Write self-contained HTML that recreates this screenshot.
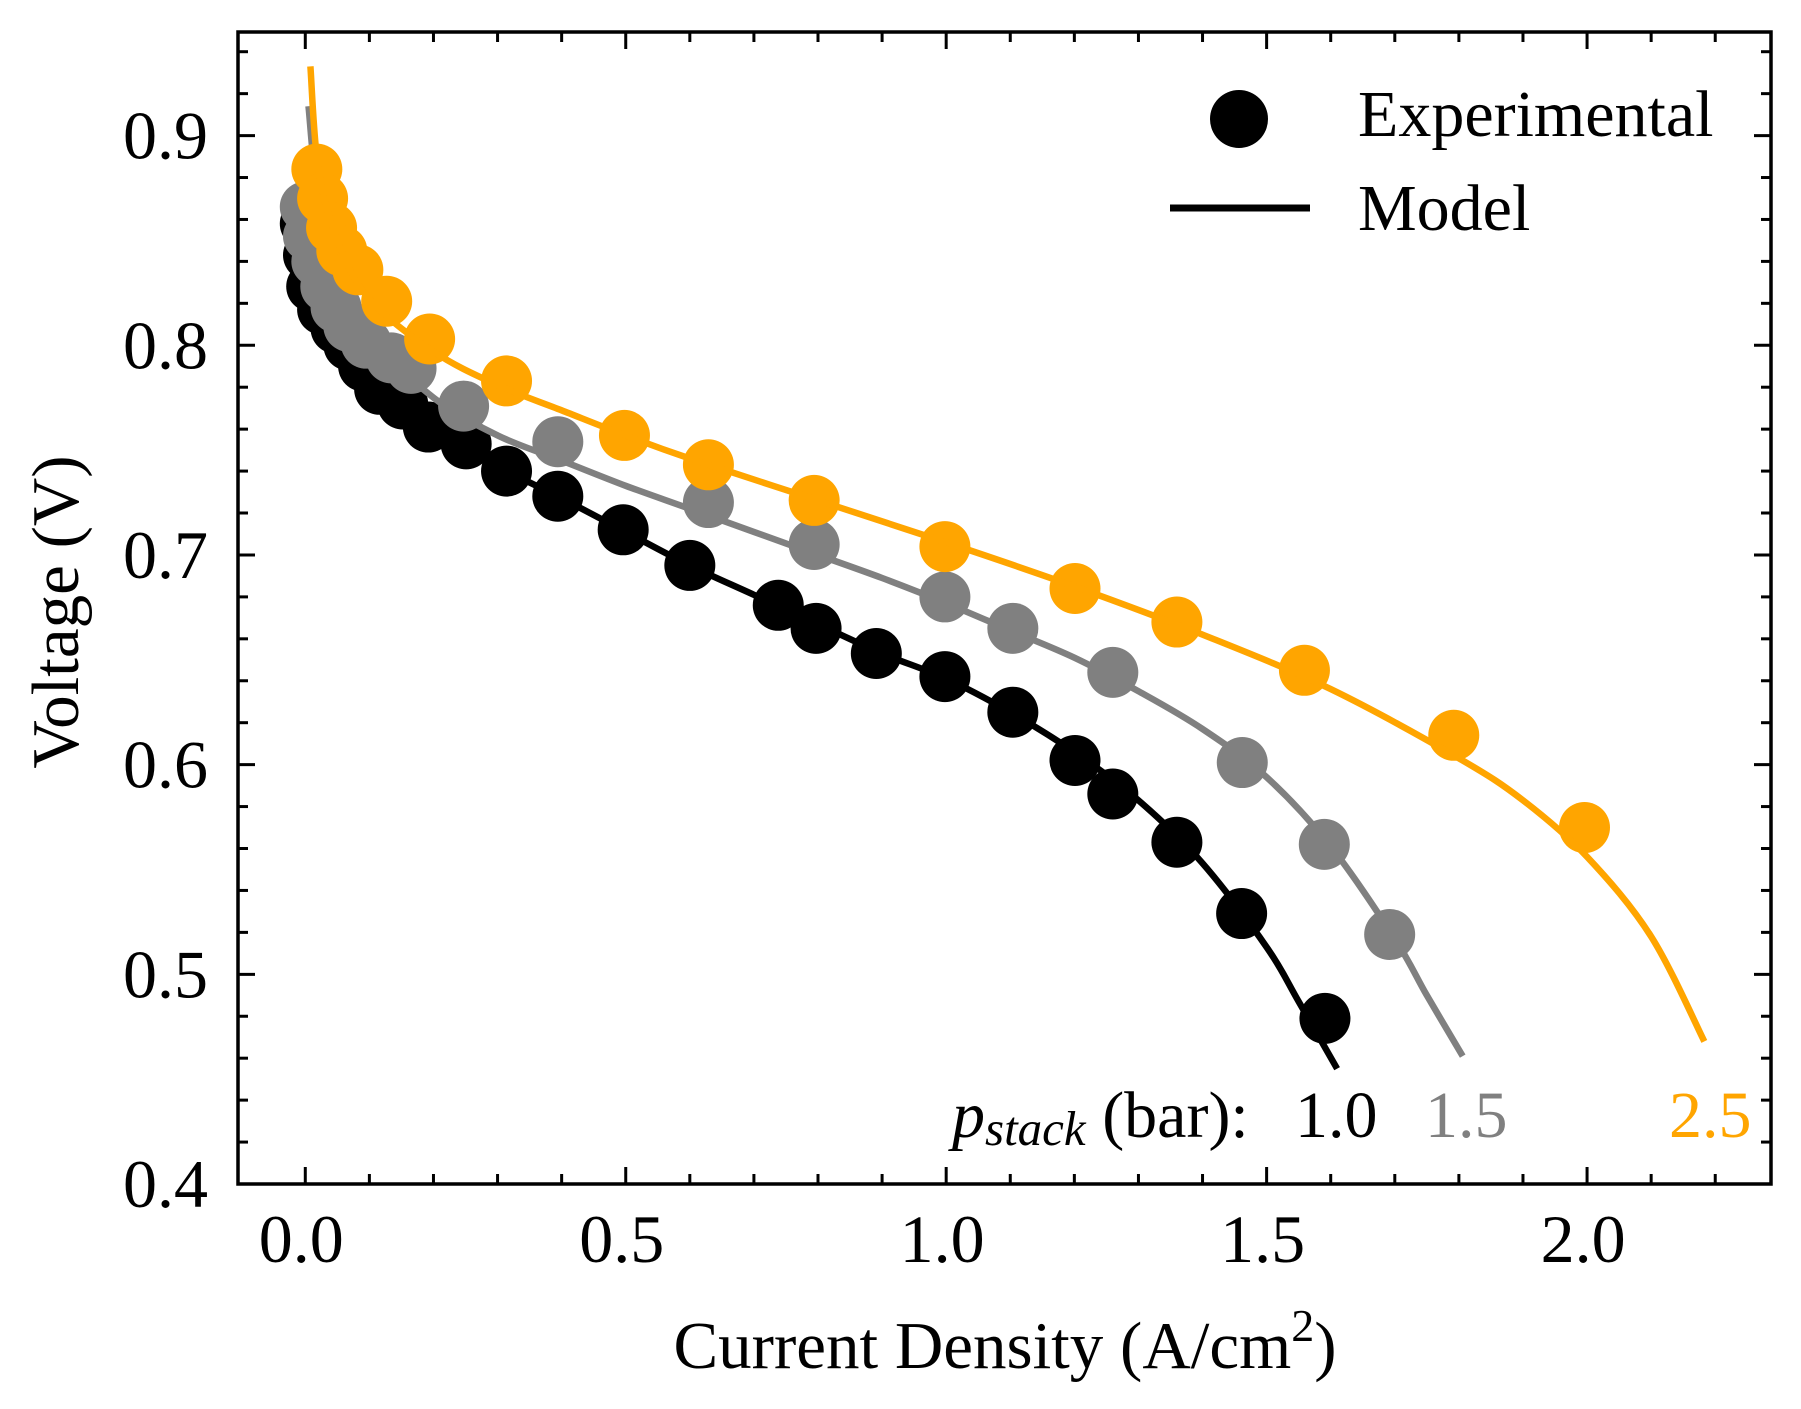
<!DOCTYPE html>
<html><head><meta charset="utf-8"><style>
html,body{margin:0;padding:0;background:#fff}
svg{display:block}
text{font-family:"Liberation Serif",serif;fill:#000}
</style></head><body>
<svg id="chart" width="1801" height="1409" viewBox="0 0 1801 1409" xmlns="http://www.w3.org/2000/svg">
<g id="marks"></g>
<g id="axes"></g>
<g>
<circle cx="1239" cy="119" r="29" fill="#000"/>
<text x="1358" y="136" font-size="66">Experimental</text>
<line x1="1170" y1="208" x2="1310" y2="208" stroke="#000" stroke-width="7"/>
<text x="1358" y="230" font-size="66">Model</text>
</g>
<g>
<text x="952" y="1137" font-size="66"><tspan font-style="italic">p</tspan><tspan font-style="italic" font-size="49" dy="8">stack</tspan><tspan dy="-8"> (bar):</tspan></text>
<text x="1295" y="1137" font-size="66">1.0</text>
<text x="1425" y="1137" font-size="66" style="fill:#808080">1.5</text>
<text x="1669" y="1137" font-size="66" style="fill:#FFA500">2.5</text>
</g>
<text x="1005" y="1368" font-size="67" text-anchor="middle">Current Density (A/cm<tspan font-size="46" dy="-27">2</tspan><tspan dy="27">)</tspan></text>
<text transform="translate(78,612) rotate(-90)" font-size="67" text-anchor="middle">Voltage (V)</text>
</svg>
<script>
const xTicks=[0.0,0.5,1.0,1.5,2.0];
const xTickLabels=["0.0","0.5","1.0","1.5","2.0"];
const yTicks=[0.4,0.5,0.6,0.7,0.8,0.9];
const yTickLabels=["0.4","0.5","0.6","0.7","0.8","0.9"];
const seriesNames=["1.0 bar","1.5 bar","2.5 bar"];
const seriesColors=["#000000","#808080","#FFA500"];
const exp1X=[0.0,0.005,0.01,0.027,0.048,0.068,0.091,0.116,0.152,0.192,0.251,0.314,0.394,0.496,0.600,0.738,0.797,0.891,0.998,1.104,1.201,1.260,1.360,1.461,1.591];
const exp1Y=[0.858,0.843,0.828,0.817,0.808,0.800,0.790,0.779,0.772,0.761,0.753,0.740,0.728,0.712,0.695,0.676,0.665,0.653,0.642,0.625,0.602,0.586,0.563,0.529,0.479];
const exp2X=[0.0,0.005,0.018,0.032,0.048,0.068,0.095,0.134,0.165,0.247,0.394,0.629,0.794,0.998,1.104,1.260,1.462,1.590,1.692];
const exp2Y=[0.866,0.852,0.840,0.828,0.818,0.809,0.801,0.794,0.789,0.771,0.754,0.725,0.705,0.680,0.665,0.644,0.601,0.562,0.519];
const exp3X=[0.018,0.027,0.041,0.057,0.082,0.127,0.194,0.314,0.498,0.629,0.794,0.998,1.201,1.360,1.559,1.792,1.996];
const exp3Y=[0.884,0.870,0.856,0.845,0.836,0.821,0.803,0.783,0.757,0.743,0.726,0.704,0.684,0.668,0.645,0.614,0.570];
const mod1X=[0.005,0.02,0.05,0.1,0.2,0.3,0.4,0.5,0.6,0.7,0.8,0.9,1.0,1.1,1.2,1.3,1.4,1.5,1.55,1.61];
const mod1Y=[0.895,0.855,0.820,0.785,0.757,0.742,0.727,0.711,0.695,0.681,0.667,0.653,0.641,0.625,0.606,0.583,0.553,0.513,0.487,0.455];
const mod2X=[0.005,0.02,0.05,0.1,0.2,0.3,0.4,0.5,0.6,0.7,0.8,0.9,1.0,1.1,1.2,1.3,1.4,1.5,1.6,1.7,1.75,1.806];
const mod2Y=[0.914,0.870,0.835,0.805,0.775,0.757,0.745,0.733,0.722,0.711,0.700,0.689,0.677,0.664,0.651,0.635,0.617,0.594,0.561,0.517,0.490,0.461];
const mod3X=[0.008,0.02,0.05,0.1,0.2,0.3,0.4,0.5,0.6,0.8,1.0,1.2,1.4,1.6,1.8,1.9,2.0,2.1,2.183];
const mod3Y=[0.933,0.885,0.850,0.822,0.797,0.781,0.769,0.757,0.746,0.726,0.706,0.685,0.662,0.636,0.603,0.583,0.556,0.518,0.468];

const L=238,R=1771,T=32,B=1184;
const XMIN=-0.105,XMAX=2.287,YMIN=0.4,YMAX=0.9494;
function sx(v){return L+(v-XMIN)/(XMAX-XMIN)*(R-L);}
function sy(v){return B-(v-YMIN)/(YMAX-YMIN)*(B-T);}
const NS="http://www.w3.org/2000/svg";
function mk(tag,parent){const e=document.createElementNS(NS,tag);parent.appendChild(e);return e;}
function smooth(pts){let d='M'+pts[0][0].toFixed(1)+','+pts[0][1].toFixed(1);
  for(let i=0;i<pts.length-1;i++){const p0=pts[Math.max(0,i-1)],p1=pts[i],p2=pts[i+1],p3=pts[Math.min(pts.length-1,i+2)];
    const c1=[p1[0]+(p2[0]-p0[0])/6,p1[1]+(p2[1]-p0[1])/6],c2=[p2[0]-(p3[0]-p1[0])/6,p2[1]-(p3[1]-p1[1])/6];
    d+='C'+c1.map(v=>v.toFixed(1)).join(',')+' '+c2.map(v=>v.toFixed(1)).join(',')+' '+p2[0].toFixed(1)+','+p2[1].toFixed(1);}
  return d;}
const marks=document.getElementById('marks');
const axes=document.getElementById('axes');
const clip=mk('clipPath',marks);clip.setAttribute('id','clip');
const cr=mk('rect',clip);cr.setAttribute('x',L);cr.setAttribute('y',T);cr.setAttribute('width',R-L);cr.setAttribute('height',B-T);
const g=mk('g',marks);g.setAttribute('clip-path','url(#clip)');
const exps=[[exp1X,exp1Y],[exp2X,exp2Y],[exp3X,exp3Y]];
const mods=[[mod1X,mod1Y],[mod2X,mod2Y],[mod3X,mod3Y]];
for(let s=0;s<3;s++){
  const eg=mk('g',g);
  
  
  const [xs,ys]=exps[s];
  for(let i=0;i<xs.length;i++){
    const c=mk('circle',eg);
    
    
    c.setAttribute('cx',sx(xs[i]));c.setAttribute('cy',sy(ys[i]));c.setAttribute('r',25.5);
    c.setAttribute('fill',seriesColors[s]);
  }
  const [mx,my]=mods[s];
  const p=mk('path',g);
  
  
  p.setAttribute('d',smooth(mx.map((v,i)=>[sx(v),sy(my[i])])));
  p.setAttribute('fill','none');p.setAttribute('stroke',seriesColors[s]);p.setAttribute('stroke-width',6.5);
}
const fr=mk('rect',axes);


fr.setAttribute('x',L);fr.setAttribute('y',T);fr.setAttribute('width',R-L);fr.setAttribute('height',B-T);
fr.setAttribute('fill','none');fr.setAttribute('stroke','#000');fr.setAttribute('stroke-width',3.5);
function tick(x1,y1,x2,y2){const l=mk('line',axes);l.setAttribute('x1',x1);l.setAttribute('y1',y1);l.setAttribute('x2',x2);l.setAttribute('y2',y2);l.setAttribute('stroke','#000');l.setAttribute('stroke-width',3);return l;}
for(let i=0;i<=22;i++){const v=i*0.1;if(v>XMAX)break;const major=i%5===0;const len=major?17:10;const x=sx(v);
  const t1=tick(x,B,x,B-len);
  const t2=tick(x,T,x,T+len);}
for(let i=0;i<=27;i++){const v=0.4+i*0.02;if(v>YMAX)break;const major=i%5===0;const len=major?17:10;const y=sy(v);
  const t1=tick(L,y,L+len,y);
  const t2=tick(R,y,R-len,y);}
xTicks.forEach((v,i)=>{const t=mk('text',axes);
  
  
  t.setAttribute('x',sx(v)-4);t.setAttribute('y',1262);t.setAttribute('font-size',68);t.setAttribute('text-anchor','middle');t.textContent=xTickLabels[i];});
yTicks.forEach((v,i)=>{const t=mk('text',axes);
  
  
  t.setAttribute('x',208);t.setAttribute('y',sy(v)+23);t.setAttribute('font-size',68);t.setAttribute('text-anchor','end');t.textContent=yTickLabels[i];});
</script>
</body></html>
